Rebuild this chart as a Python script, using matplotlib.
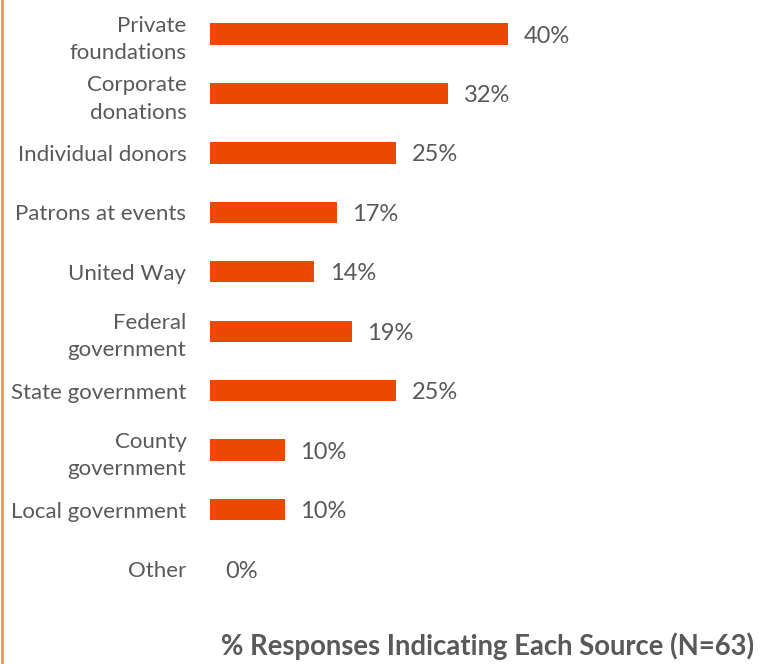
import matplotlib.pyplot as plt
from matplotlib.lines import Line2D

sources = ["Private\nfoundations", "Corporate\ndonations", "Individual donors",
           "Patrons at events", "United Way", "Federal\ngovernment",
           "State government", "County\ngovernment", "Local government", "Other"]
pct = [40, 32, 25, 17, 14, 19, 25, 10, 10, 0]
title = "% Responses Indicating Each Source (N=63)"

bar_color = "#EC4800"
text_color = "#595959"
plt.rcParams["font.family"] = ["Lato", "DejaVu Sans"]

fig = plt.figure(figsize=(7.76, 6.64), dpi=100)
ax = fig.add_axes([210 / 776, 1 - 598.7 / 664, 550 / 776, (598.7 - 4.3) / 664])

pos = list(range(len(sources)))
ax.barh(pos, pct, height=0.36, color=bar_color, linewidth=0)
ax.set_ylim(len(sources) - 0.5, -0.5)
ax.set_xlim(0, 40 * 550 / 298)

for p, v in zip(pos, pct):
    ax.annotate(f"{v}%", (v, p), xytext=(11, -1.5), textcoords="offset points",
                va="center", ha="left", fontsize=17, color=text_color)

ax.set_yticks(pos)
ax.set_yticklabels(sources, fontsize=16, color=text_color, linespacing=1.45)
ax.tick_params(axis="y", length=0, pad=17)
ax.set_xticks([])
for s in ax.spines.values():
    s.set_visible(False)

fig.text(488 / 776, 1 - 646 / 664, title, ha="center", va="center",
         fontsize=19.8, fontweight="bold", color=text_color)

# thin orange rule down the left edge
fig.add_artist(Line2D([2 / 776, 2 / 776], [0, 1], transform=fig.transFigure,
                      color="#F4956A", linewidth=2.2))

fig.savefig("out.png", dpi=100)
